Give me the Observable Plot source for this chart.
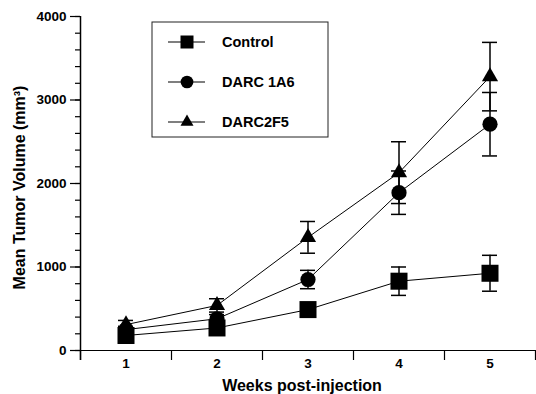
<!DOCTYPE html>
<html>
<head>
<meta charset="utf-8">
<script src="https://cdn.jsdelivr.net/npm/d3@7"></script>
<script src="https://cdn.jsdelivr.net/npm/@observablehq/plot@0.6"></script>
<style>
  html, body { margin: 0; padding: 0; background: #fff; }
  #chart svg { display: block; }
</style>
</head>
<body>
<div id="chart"></div>
<script>
// Tumor growth after injection: mean volume (mm³) ± error per week
const weeks = [1, 2, 3, 4, 5];
const seriesNames = ["Control", "DARC 1A6", "DARC2F5"];
const seriesSymbols = ["square", "circle", "triangle"];

const controlMean = [180, 270, 490, 830, 925];
const controlErr  = [30, 40, 60, 170, 215];
const darc1a6Mean = [250, 380, 850, 1890, 2710];
const darc1a6Err  = [40, 50, 110, 260, 380];
const darc2f5Mean = [310, 540, 1355, 2130, 3280];
const darc2f5Err  = [50, 80, 190, 370, 410];

const yMajorTicks = [0, 1000, 2000, 3000, 4000];
const yMinorTicks = d3.range(0, 4001, 200);
const xBoundaryTicks = [0.5, 1.5, 2.5, 3.5, 4.5, 5.5];

const means = [controlMean, darc1a6Mean, darc2f5Mean];
const errs = [controlErr, darc1a6Err, darc2f5Err];
const rows = seriesNames.flatMap((name, i) =>
  weeks.map((week, j) => ({series: name, week, mean: means[i][j], err: errs[i][j]}))
);

// per-series marker radius (Plot symbol area = π r²)
const markerR = {"Control": 9.6, "DARC 1A6": 7.6, "DARC2F5": 6.0};

const font = "Arial, 'Liberation Sans', sans-serif";

const chart = Plot.plot({
  width: 536,
  height: 394,
  marginLeft: 80,
  marginRight: 1,
  marginTop: 16,
  marginBottom: 44,
  x: {domain: [0.5, 5.5]},
  y: {domain: [0, 4000]},
  style: {fontFamily: font, fontWeight: "bold", background: "#fff", color: "#000"},
  marks: [
    // minor (short) and major (long) y ticks
    Plot.axisY({ticks: yMinorTicks, tickSize: 5, tickFormat: () => "", label: null, strokeWidth: 1.2}),
    Plot.axisY({ticks: yMajorTicks, tickSize: 10, tickPadding: 4, tickFormat: "d", fontSize: 13.5, label: null, strokeWidth: 1.2}),
    // week boundaries on the x axis, labels centred between them
    Plot.axisX({ticks: xBoundaryTicks, tickSize: 10, tickFormat: () => "", label: null, strokeWidth: 1.2}),
    Plot.axisX({ticks: weeks, tickSize: 0, tickPadding: 8, tickFormat: "d", fontSize: 13.5, label: null}),
    Plot.text(["Mean Tumor Volume (mm³)"], {
      frameAnchor: "left", rotate: -90, lineAnchor: "top", textAnchor: "middle",
      dx: -67, dy: 4, fontSize: 16, fontWeight: "bold"
    }),
    Plot.text(["Weeks post-injection"], {
      frameAnchor: "bottom", lineAnchor: "bottom", dx: -6, dy: 40, fontSize: 16, fontWeight: "bold"
    }),
    // axis lines
    Plot.ruleY([0], {stroke: "#000", strokeWidth: 1.2}),
    Plot.ruleX([0.5], {stroke: "#000", strokeWidth: 1.5, insetBottom: -10}),
    // error bars with caps
    Plot.ruleX(rows, {x: "week", y1: d => d.mean - d.err, y2: d => d.mean + d.err, stroke: "#000", strokeWidth: 1.5}),
    Plot.ruleY(rows, {y: d => d.mean + d.err, x1: "week", x2: "week", insetLeft: -7.5, insetRight: -7.5, stroke: "#000", strokeWidth: 1.5}),
    Plot.ruleY(rows, {y: d => d.mean - d.err, x1: "week", x2: "week", insetLeft: -7.5, insetRight: -7.5, stroke: "#000", strokeWidth: 1.5}),
    // connecting lines
    Plot.line(rows, {x: "week", y: "mean", z: "series", stroke: "#000", strokeWidth: 1}),
    // markers
    ...seriesNames.map((name, i) =>
      Plot.dot(rows.filter(d => d.series === name), {
        x: "week", y: "mean", symbol: () => seriesSymbols[i], r: markerR[name], fill: "#000", stroke: "none"
      })
    )
  ]
});

// legend box inside the plot area
const svg = d3.select(chart);
const legend = svg.append("g").attr("transform", "translate(152,22)");
legend.append("rect")
  .attr("x", 0).attr("y", 0).attr("width", 176).attr("height", 115)
  .attr("fill", "#fff").attr("stroke", "#222").attr("stroke-width", 1);
const legendSize = {"Control": 169, "DARC 1A6": 127, "DARC2F5": 73};
seriesNames.forEach((name, i) => {
  const cy = 20 + i * 40;
  const g = legend.append("g").attr("transform", `translate(0,${cy})`);
  g.append("line").attr("x1", 16).attr("x2", 53).attr("y1", 0).attr("y2", 0)
    .attr("stroke", "#000").attr("stroke-width", 1.2);
  const sym = {square: d3.symbolSquare, circle: d3.symbolCircle, triangle: d3.symbolTriangle}[seriesSymbols[i]];
  g.append("path").attr("transform", "translate(35,0)")
    .attr("d", d3.symbol(sym, legendSize[name])()).attr("fill", "#000");
  g.append("text").attr("x", 70).attr("y", 0).attr("dy", "0.35em")
    .attr("text-anchor", "start")
    .attr("font-family", font).attr("font-weight", "bold").attr("font-size", 14.5)
    .attr("fill", "#000").text(name);
});

document.getElementById("chart").appendChild(chart);
</script>
</body>
</html>
